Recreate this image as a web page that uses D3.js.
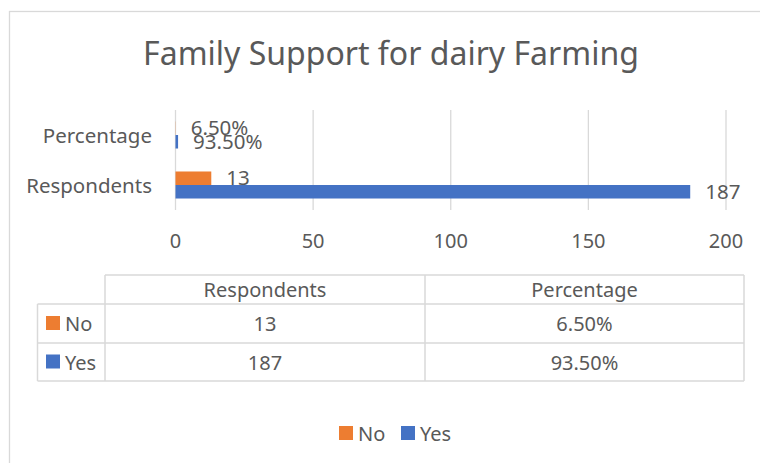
<!DOCTYPE html>
<html>
<head>
<meta charset="utf-8">
<script src="https://cdn.jsdelivr.net/npm/d3@7"></script>
<style>
  body { margin: 0; background: #fff; }
  svg text { font-family: "Noto Sans", sans-serif; fill: #595959; }
</style>
</head>
<body>
<svg id="chart" width="760" height="463"></svg>
<script>
const categories = ["Percentage", "Respondents"];
const seriesNames = ["No", "Yes"];
const noValues = { Respondents: 13, Percentage: 0.065 };
const yesValues = { Respondents: 187, Percentage: 0.935 };
const noLabels = { Respondents: "13", Percentage: "6.50%" };
const yesLabels = { Respondents: "187", Percentage: "93.50%" };
const tableColumns = ["Respondents", "Percentage"];
const ticks = [0, 50, 100, 150, 200];
const colors = { No: "#ed7d31", Yes: "#4472c4" };

const series = [
    { name: "No", values: noValues, labels: noLabels },
    { name: "Yes", values: yesValues, labels: yesLabels }
];

const svg = d3.select("#chart");
const grey = "#d9d9d9";

// chart area border
svg.append("rect")
    .attr("x", 9.5).attr("y", 11.5)
    .attr("width", 800).attr("height", 500)
    .attr("fill", "none").attr("stroke", grey).attr("stroke-width", 1.3);

// title
svg.append("text")
    .attr("x", 391).attr("y", 65)
    .attr("text-anchor", "middle")
    .style("font-size", "32px")
    .text("Family Support for dairy Farming");

const x = d3.scaleLinear().domain([0, 200]).range([175.5, 726]);
const y = d3.scaleBand().domain(categories).range([110, 210]);
const ySub = d3.scaleBand().domain(seriesNames).range([0, y.bandwidth()]).paddingOuter(0.85);

// gridlines
svg.append("g").selectAll("line")
    .data(ticks)
    .enter()
    .append("line")
    .attr("x1", d => x(d)).attr("x2", d => x(d))
    .attr("y1", 110).attr("y2", 210)
    .attr("stroke", grey).attr("stroke-width", 1.3);

// tick labels
svg.append("g").selectAll("text")
    .data(ticks)
    .enter()
    .append("text")
    .attr("x", d => x(d)).attr("y", 248)
    .attr("text-anchor", "middle")
    .style("font-size", "20px")
    .text(d => d);

// category labels
svg.append("g").selectAll("text")
    .data(categories)
    .enter()
    .append("text")
    .attr("x", 152).attr("y", d => y(d) + y.bandwidth() / 2 + 7.5)
    .attr("text-anchor", "end")
    .style("font-size", "20.5px")
    .text(d => d);

// bars + labels
series.forEach(s => {
    const g = svg.append("g");
    g.selectAll("rect")
        .data(categories)
        .enter()
        .append("rect")
        .attr("x", x(0))
        .attr("y", d => y(d) + ySub(s.name))
        .attr("width", d => x(s.values[d]) - x(0))
        .attr("height", ySub.bandwidth())
        .attr("fill", colors[s.name]);
    g.selectAll("text")
        .data(categories)
        .enter()
        .append("text")
        .attr("x", d => x(s.values[d]) + 15)
        .attr("y", d => y(d) + ySub(s.name) + ySub.bandwidth() / 2 + 7)
        .style("font-size", "20.5px")
        .text(d => s.labels[d]);
});

// data table
const colX = [37.5, 105, 425, 744];
const rowY = [275, 304, 343, 381];
const tbl = svg.append("g");
// horizontal lines
tbl.append("line").attr("x1", colX[1]).attr("x2", colX[3]).attr("y1", rowY[0]).attr("y2", rowY[0]);
[1, 2, 3].forEach(i => {
    tbl.append("line").attr("x1", colX[0]).attr("x2", colX[3]).attr("y1", rowY[i]).attr("y2", rowY[i]);
});
// vertical lines
tbl.append("line").attr("x1", colX[0]).attr("x2", colX[0]).attr("y1", rowY[1]).attr("y2", rowY[3]);
[1, 2, 3].forEach(i => {
    tbl.append("line").attr("x1", colX[i]).attr("x2", colX[i]).attr("y1", rowY[0]).attr("y2", rowY[3]);
});
tbl.selectAll("line").attr("stroke", grey).attr("stroke-width", 1.5);

tableColumns.forEach((c, ci) => {
    const cx = (colX[ci + 1] + colX[ci + 2]) / 2;
    tbl.append("text")
        .attr("x", cx).attr("y", 297)
        .attr("text-anchor", "middle")
        .style("font-size", "20px")
        .text(c);
    series.forEach((s, si) => {
        tbl.append("text")
            .attr("x", cx).attr("y", si === 0 ? 331 : 369.5)
            .attr("text-anchor", "middle")
            .style("font-size", "20px")
            .text(s.labels[c]);
    });
});
series.forEach((s, si) => {
    const ry = si === 0 ? 331 : 369.5;
    tbl.append("rect")
        .attr("x", 46).attr("y", ry - 15)
        .attr("width", 14).attr("height", 14)
        .attr("fill", colors[s.name]);
    tbl.append("text")
        .attr("x", 65).attr("y", ry)
        .style("font-size", "20px")
        .text(s.name);
});

// legend
const legendPos = { No: 339, Yes: 401 };
series.forEach(s => {
    svg.append("rect")
        .attr("x", legendPos[s.name]).attr("y", 426)
        .attr("width", 14).attr("height", 14)
        .attr("fill", colors[s.name]);
    svg.append("text")
        .attr("x", legendPos[s.name] + 19).attr("y", 440.5)
        .style("font-size", "20px")
        .text(s.name);
});
</script>
</body>
</html>
